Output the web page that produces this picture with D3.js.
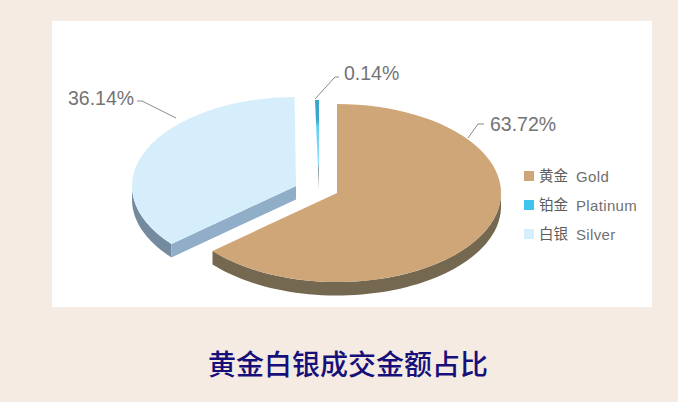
<!DOCTYPE html>
<html>
<head>
<meta charset="utf-8">
<script src="https://cdn.jsdelivr.net/npm/d3@7"></script>
<style>
  html, body { margin: 0; padding: 0; background: #f5ebe3; overflow: hidden; }
  svg { display: block; }
  text { font-family: "Liberation Sans", Arial, sans-serif; }
  .pct { font-size: 19.5px; fill: #737373; }
  .cn { font-family: "Noto Sans CJK SC", sans-serif; font-size: 14.5px; fill: #5c5c5c; }
  .en { font-size: 15px; fill: #707070; letter-spacing: 0.35px; }
  .title { font-family: "Noto Sans CJK SC", sans-serif; font-size: 28px; font-weight: 500; fill: #17107a; }
</style>
</head>
<body>
<div id="chart"></div>
<script>
// data, in legend order
const categories = ["黄金", "铂金", "白银"];
const categoriesEn = ["Gold", "Platinum", "Silver"];
const shares = [63.72, 0.14, 36.14];
const shareLabels = ["63.72%", "0.14%", "36.14%"];
const titleText = "黄金白银成交金额占比";

// slices run clockwise from 12 o'clock: gold, silver, platinum
const drawOrder = [0, 2, 1];

const W = 678, H = 402;
const rx = 164, ry = 89, depth = 13.5;

const colors = ["#cfa678", "#3fc3ef", "#d6eefb"];
const rimColors = ["#756850", "#3aa5cc", "#748a9f"];
const cutColors = ["#756850", "#777777", "#90aec8"];
// exploded centre of each slice
const centers = [[337, 193], [319, 189], [296, 186]];
const minSweep = 1.4 * Math.PI / 180; // the sliver is too thin to see otherwise

const leaders = [
  [[468, 138], [478, 124], [484, 124]],
  [[315, 99], [335, 77], [339, 77]],
  [[176, 118], [142, 101], [137, 101]],
];
const labelPos = [[490, 131], [344, 80], [68, 105]];
const legendY = [176, 205, 234];

const svg = d3.select("#chart").append("svg").attr("width", W).attr("height", H);

svg.append("rect").attr("x", 52).attr("y", 21).attr("width", 600).attr("height", 286).attr("fill", "#fff");

const defs = svg.append("defs");
const grad = defs.append("linearGradient").attr("id", "sliver").attr("x1", 0).attr("y1", 0).attr("x2", 0).attr("y2", 1);
[["0%", "#3aa5cc"], ["22%", "#3aa5cc"], ["30%", "#5fd0f5"], ["72%", "#8fdcf7"], ["78%", "#7d8a90"], ["100%", "#777"]]
  .forEach(s => grad.append("stop").attr("offset", s[0]).attr("stop-color", s[1]));

const pie = d3.pie().sort((a, b) => drawOrder.indexOf(a) - drawOrder.indexOf(b)).value(i => shares[i]);
const slices = pie(d3.range(shares.length)).map(d => {
  if (d.endAngle - d.startAngle < minSweep) d.startAngle = d.endAngle - minSweep;
  return d;
});

const arc = d3.arc().innerRadius(0).outerRadius(rx);
const rim = (a, c, dy = 0) => [c[0] + rx * Math.sin(a), c[1] - ry * Math.cos(a) + dy];
const line = d3.line();

function drawWall(c, a0, a1, fill) {
  if (a1 <= a0) return;
  const steps = d3.range(0, 61).map(i => a0 + (a1 - a0) * i / 60);
  const top = steps.map(a => rim(a, c));
  const bottom = steps.map(a => rim(a, c, depth)).reverse();
  svg.append("path").attr("d", line(top.concat(bottom)) + "Z").attr("fill", fill);
}

slices.forEach(d => {
  const i = d.data, c = centers[i];
  // visible part of the side wall is the front half of the rim
  const a0 = Math.max(d.startAngle, Math.PI / 2);
  const a1 = Math.min(d.endAngle, 3 * Math.PI / 2);
  if (i !== 1) drawWall(c, a0, a1, rimColors[i]);
  if (i === 2) {
    const e = rim(d.startAngle, c);
    svg.append("path")
      .attr("d", line([c, e, [e[0], e[1] + depth], [c[0], c[1] + depth]]) + "Z")
      .attr("fill", cutColors[i]);
  }
  svg.append("path")
    .attr("transform", `translate(${c[0]},${c[1]}) scale(1,${ry / rx})`)
    .attr("d", arc(d))
    .attr("fill", i === 1 ? "url(#sliver)" : colors[i]);
});

leaders.forEach(p => {
  svg.append("path").attr("d", line(p)).attr("fill", "none").attr("stroke", "#8a8a8a").attr("stroke-width", 1);
});

shareLabels.forEach((t, i) => {
  svg.append("text").attr("class", "pct").attr("x", labelPos[i][0]).attr("y", labelPos[i][1]).text(t);
});

categories.forEach((t, i) => {
  svg.append("rect").attr("x", 524).attr("y", legendY[i] - 5).attr("width", 10).attr("height", 10).attr("fill", colors[i]);
  svg.append("text").attr("class", "cn").attr("x", 539).attr("y", legendY[i] + 5).text(t);
  svg.append("text").attr("class", "en").attr("x", 576).attr("y", legendY[i] + 5.5).text(categoriesEn[i]);
});

svg.append("text").attr("class", "title").attr("x", 348).attr("y", 375).attr("text-anchor", "middle").text(titleText);
</script>
</body>
</html>
